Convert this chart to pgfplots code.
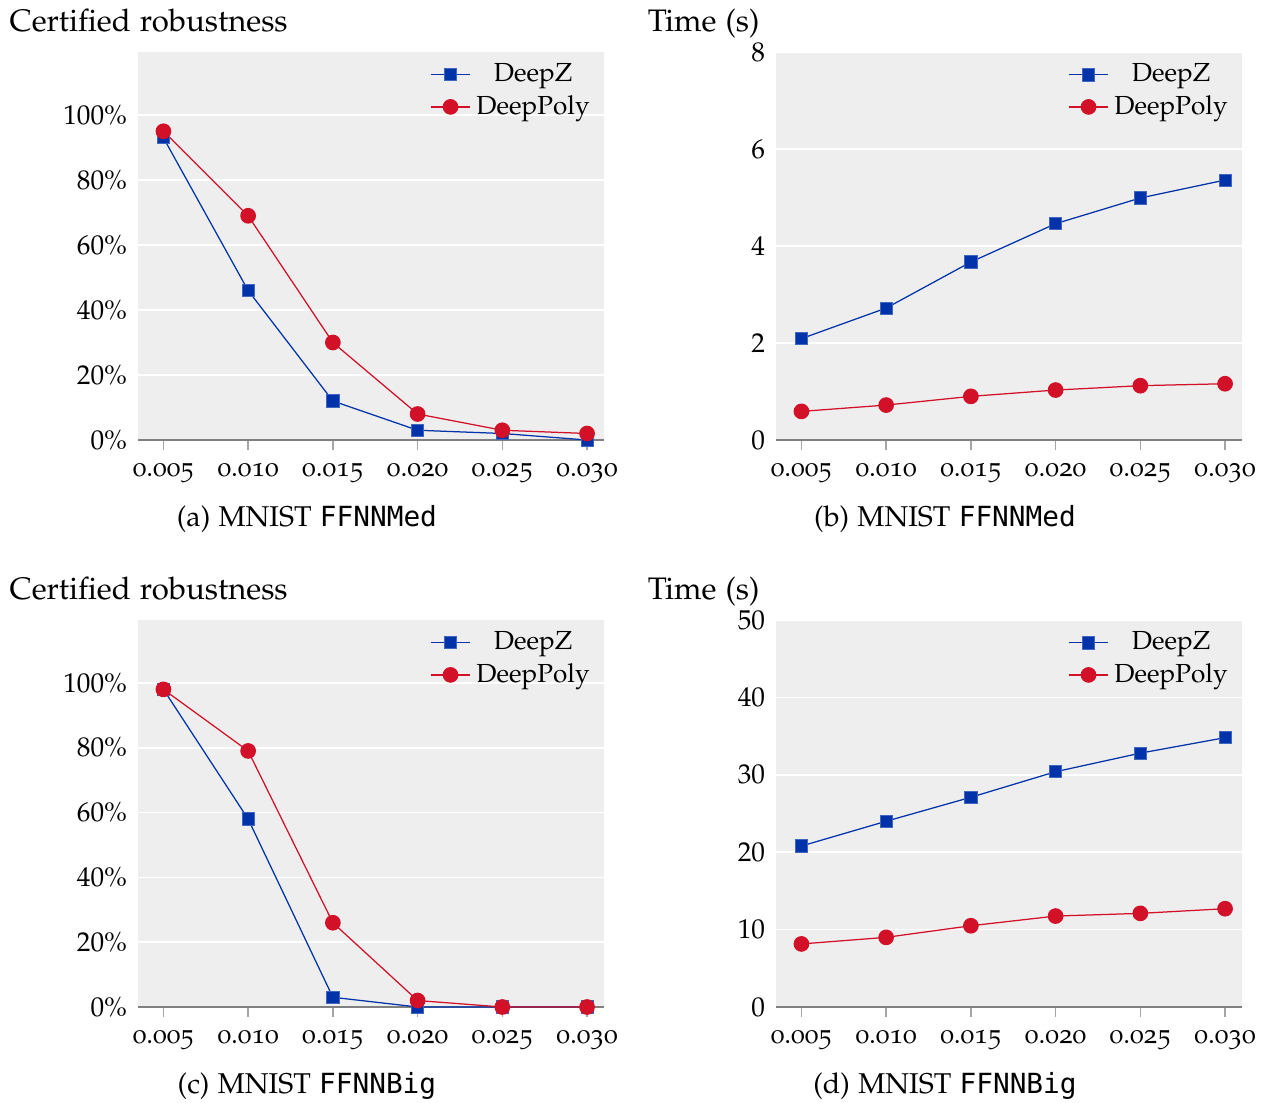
\documentclass[border=0pt]{standalone}
\usepackage[no-math]{fontspec}
\newfontfamily\dvmono{DejaVu Sans Mono}[Scale=0.97]
\usepackage[T1]{fontenc}
\usepackage[osf]{mathpazo}
\usepackage{pgfplots}
\pgfplotsset{compat=1.18}
\definecolor{cblue}{RGB}{0,51,170}
\definecolor{cred}{RGB}{210,16,40}
\definecolor{bgray}{RGB}{238,238,238}
\definecolor{agray}{RGB}{128,128,128}
\definecolor{tgray}{RGB}{165,165,165}
\pgfplotsset{
  panel/.style={
    scale only axis, width=167.76pt,
    axis background/.style={fill=bgray},
    axis x line*=bottom, axis y line*=left,
    x axis line style={draw=agray,line width=0.8pt,-},
    y axis line style={draw=none},
    xmin=-0.3, xmax=5.2,
    xtick={0,...,5},
    xticklabels={0.005,0.010,0.015,0.020,0.025,0.030},
    tick align=outside,
    major tick length=3.6pt,
    xtick style={draw=tgray,line width=0.5pt},
    ytick style={draw=none},
    ymajorgrids, grid style={white,line width=0.6pt},
    tick label style={font=\fontsize{9.8}{11}\selectfont},
    xticklabel style={yshift=-1.2pt},
    yticklabel style={xshift=3.2pt},
    clip=false,
    legend style={at={(1.0,1.0)},anchor=north east,draw=none,fill=none,font=\fontsize{9.4}{11}\selectfont,row sep=-0.6pt},
    legend cell align=center,
    legend image code/.code={\draw[mark repeat=2,mark phase=2,##1] plot coordinates {(0cm,0cm) (0.25cm,0cm) (0.5cm,0cm)};},
  },
  zline/.style={cblue, line width=0.45pt, mark=square*, mark size=2.2pt, mark options={fill=cblue,draw=cblue!75!white,line width=0.3pt}},
  pline/.style={cred, line width=0.45pt, mark=*, mark size=2.6pt, mark options={fill=cred,draw=cred}},
  pct/.style={ymin=0, ymax=119.4, ytick={0,20,...,100}, yticklabel={$\pgfmathprintnumber{\tick}$\%}},
}
\begin{document}
\begin{tikzpicture}
\path (0,0) rectangle (457.2pt,396.72pt);
% (a)
\begin{axis}[panel, pct, height=139.68pt, at={(49.68pt,238.32pt)}, anchor=south west]
\addplot[zline] coordinates {(0,93) (1,46) (2,12) (3,3) (4,2) (5,0)};
\addlegendentry{DeepZ}
\addplot[pline] coordinates {(0,95) (1,69) (2,30) (3,8) (4,3) (5,2)};
\addlegendentry{DeepPoly}
\end{axis}
% (b)
\begin{axis}[panel, height=139.68pt, at={(279.36pt,238.32pt)}, anchor=south west, ymin=0, ymax=8, ytick={0,2,...,8}]
\addplot[zline] coordinates {(0,2.09) (1,2.72) (2,3.67) (3,4.46) (4,4.99) (5,5.36)};
\addlegendentry{DeepZ}
\addplot[pline] coordinates {(0,0.59) (1,0.72) (2,0.90) (3,1.03) (4,1.12) (5,1.16)};
\addlegendentry{DeepPoly}
\end{axis}
% (c)
\begin{axis}[panel, pct, height=139.32pt, at={(49.68pt,34.2pt)}, anchor=south west]
\addplot[zline] coordinates {(0,98) (1,58) (2,3) (3,0) (4,0) (5,0)};
\addlegendentry{DeepZ}
\addplot[pline] coordinates {(0,98) (1,79) (2,26) (3,2) (4,0) (5,0)};
\addlegendentry{DeepPoly}
\end{axis}
% (d)
\begin{axis}[panel, height=139.32pt, at={(279.36pt,34.2pt)}, anchor=south west, ymin=0, ymax=50, ytick={0,10,...,50}]
\addplot[zline] coordinates {(0,20.8) (1,24.0) (2,27.1) (3,30.4) (4,32.8) (5,34.8)};
\addlegendentry{DeepZ}
\addplot[pline] coordinates {(0,8.15) (1,9.0) (2,10.5) (3,11.75) (4,12.1) (5,12.7)};
\addlegendentry{DeepPoly}
\end{axis}
\node[anchor=base west,font=\fontsize{11.2}{13}\selectfont,inner sep=0pt] at (3.3pt,385.2pt) {Certified robustness};
\node[anchor=base west,font=\fontsize{11.2}{13}\selectfont,inner sep=0pt] at (233.0pt,385.2pt) {Time (s)};
\node[anchor=base west,font=\fontsize{11.2}{13}\selectfont,inner sep=0pt] at (3.3pt,181.08pt) {Certified robustness};
\node[anchor=base west,font=\fontsize{11.2}{13}\selectfont,inner sep=0pt] at (233.0pt,181.08pt) {Time (s)};
\node[anchor=base,inner sep=0pt,font=\fontsize{10.3}{12}\selectfont] at (110.5pt,207.36pt) {(a) MNIST {\dvmono FFNNMed}};
\node[anchor=base,inner sep=0pt,font=\fontsize{10.3}{12}\selectfont] at (340.2pt,207.36pt) {(b) MNIST {\dvmono FFNNMed}};
\node[anchor=base,inner sep=0pt,font=\fontsize{10.3}{12}\selectfont] at (110.5pt,3.24pt) {(c) MNIST {\dvmono FFNNBig}};
\node[anchor=base,inner sep=0pt,font=\fontsize{10.3}{12}\selectfont] at (340.2pt,3.24pt) {(d) MNIST {\dvmono FFNNBig}};
\end{tikzpicture}
\end{document}
